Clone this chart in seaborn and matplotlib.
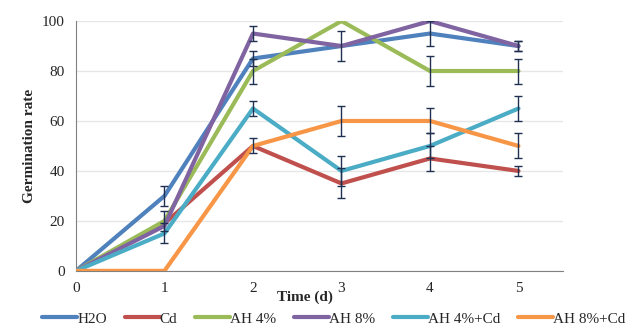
import pandas as pd
import numpy as np
import matplotlib
matplotlib.use("Agg")
import matplotlib.pyplot as plt
import seaborn as sns

# datos
days = [0, 1, 2, 3, 4, 5]
h2o = [0, 30, 85, 90, 95, 90]
cd = [0, 19, 50, 35, 45, 40]
ah4 = [0, 20, 80, 100, 80, 80]
ah8 = [0, 18, 95, 90, 100, 90]
ah4_cd = [0, 15, 65, 40, 50, 65]
ah8_cd = [0, 0, 50, 60, 60, 50]

h2o_err = [0, 4, 3, 6, 5, 2]
cd_err = [0, 0, 3, 6, 5, 2]
ah4_err = [0, 4, 5, 0, 6, 5]
ah8_err = [0, 0, 3, 0, 0, 2]
ah4_cd_err = [0, 4, 3, 6, 5, 5]
ah8_cd_err = [0, 0, 0, 6, 5, 5]

names = ["H2O", "Cd", "AH 4%", "AH 8%", "AH 4%+Cd", "AH 8%+Cd"]
colores = ["#4F81BD", "#C0504D", "#9BBB59", "#8064A2", "#4BACC6", "#F79646"]
valores = [h2o, cd, ah4, ah8, ah4_cd, ah8_cd]
errores = [h2o_err, cd_err, ah4_err, ah8_err, ah4_cd_err, ah8_cd_err]

filas = []
for n, v in zip(names, valores):
    for d, y in zip(days, v):
        filas.append({"day": d, "rate": y, "group": n})
df = pd.DataFrame(filas)

sns.set_style("white")
plt.rcParams["font.family"] = ["Liberation Serif", "DejaVu Serif"]

fig = plt.figure(figsize=(6.33, 3.34), dpi=100)
ax = fig.add_axes([0.12, 0.189, 0.769, 0.748])

ax.yaxis.grid(True, color="#E6E6E6", linewidth=1)
ax.set_axisbelow(True)

sns.lineplot(data=df, x="day", y="rate", hue="group", hue_order=names,
             palette=colores, linewidth=3, ax=ax, legend=False, zorder=3)

# barras de error oscuras
for v, e in zip(valores, errores):
    dd = [d for d, err in zip(days, e) if err > 0]
    yy = [y for y, err in zip(v, e) if err > 0]
    ee = [err for err in e if err > 0]
    ax.errorbar(dd, yy, yerr=ee, fmt="none", ecolor="#1F3050",
                elinewidth=1, capsize=3, capthick=1, zorder=4)

ax.set_xlim(0, 5.5)
ax.set_ylim(0, 100)
ax.set_xticks(days)
ax.set_yticks([0, 20, 40, 60, 80, 100])
ax.tick_params(axis="x", direction="in", length=5, color="#808080",
               labelsize=11, pad=8)
ax.tick_params(axis="y", length=0, labelsize=11, pad=8)

for s in ["top", "right"]:
    ax.spines[s].set_visible(False)
ax.spines["left"].set_color("#808080")
ax.spines["bottom"].set_color("#808080")

ax.set_ylabel("Germination rate", fontsize=11, fontweight="bold")
ax.set_xlabel("Time (d)", fontsize=11, fontweight="bold")
ax.xaxis.set_label_coords(0.47, -0.08)

handles = [plt.Line2D([0], [0], color=c, linewidth=3) for c in colores]
fig.legend(handles, names, loc="center", bbox_to_anchor=(0.527, 0.045), ncol=6,
           frameon=False, fontsize=11, handlelength=2.3, handletextpad=0.0,
           columnspacing=1.15, borderpad=0.1)

fig.savefig("out.png", dpi=100)
